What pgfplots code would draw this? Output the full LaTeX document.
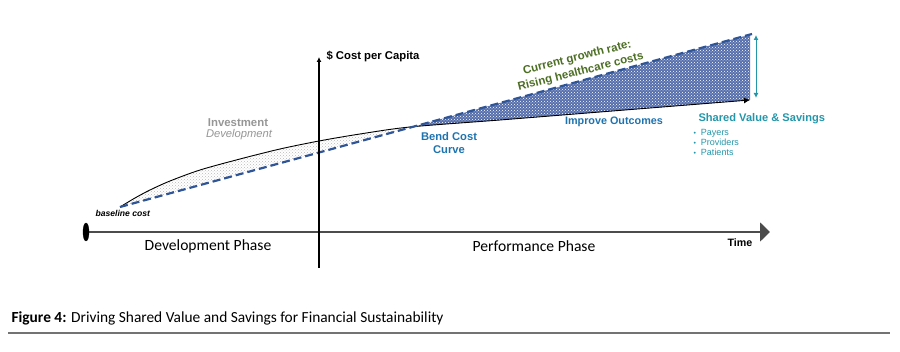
\documentclass[border=0pt]{standalone}
\usepackage{pgfplots}
\pgfplotsset{compat=1.18}
\usepgfplotslibrary{fillbetween}
\usetikzlibrary{patterns,arrows.meta}
\usepackage{fontspec}
\setmainfont{Liberation Sans}
\newfontfamily\calibri{Carlito}
\definecolor{dblue}{RGB}{47,85,151}
\definecolor{bfill}{RGB}{85,110,172}
\definecolor{txtblue}{RGB}{30,115,175}
\definecolor{tgreen}{RGB}{75,110,35}
\definecolor{teal2}{RGB}{35,150,170}
\definecolor{gtxt}{RGB}{150,150,150}
\newcommand{\fs}[1]{\fontsize{#1}{#1}\selectfont}
\begin{document}
\begin{tikzpicture}
\begin{axis}[scale only axis, width=900pt, height=352pt,
  xmin=0, xmax=900, ymin=0, ymax=352, y dir=reverse,
  axis lines=none, clip=false]
\path (rel axis cs:0,0) rectangle (rel axis cs:1,1);
% curves
\addplot[draw=none, name path=S, smooth] coordinates {
 (120,207) (135,198) (150,190) (170,181) (200,170) (240,159) (280,149)
 (319,141) (360,134) (410,127) (500,120) (600,112) (700,104) (750,100)};
\addplot[draw=none, name path=D] coordinates {(120,207) (752,34)};
\addplot[pattern=crosshatch dots, pattern color=gray!55, draw=none]
  fill between[of=S and D, soft clip={domain=120:410}];
\addplot[fill=bfill, draw=none]
  fill between[of=S and D, soft clip={domain=410:750}];
\addplot[pattern=crosshatch dots, pattern color=white, draw=none]
  fill between[of=S and D, soft clip={domain=410:750}];
\addplot[black, line width=0.9pt, smooth, -{Latex[length=6pt,width=6pt]}] coordinates {
 (120,207) (135,198) (150,190) (170,181) (200,170) (240,159) (280,149)
 (319,141) (360,134) (410,127) (500,120) (600,112) (700,104) (750,100)};
\addplot[dblue, line width=2.2pt, dash pattern=on 8pt off 4pt] coordinates {(120,207) (752,34)};
% teal double arrow
\addplot[teal2, line width=1pt, {Latex[length=5pt,width=5pt]}-{Latex[length=5pt,width=5pt]}] coordinates {(756,35) (756,98)};
% axes
\addplot[black!70, line width=1.8pt, -{Triangle[length=10pt,width=19pt]}] coordinates {(86,232) (770,232)};
\addplot[only marks, mark=*, mark size=9pt, mark options={xscale=0.33, black}] coordinates {(86,232)};
\addplot[black, line width=1.2pt, -{Latex[length=5pt,width=5pt]}] coordinates {(319,268) (319,57)};
% texts
\node[anchor=west, font=\fs{11.3}\bfseries] at (axis cs:323,56) {\$ Cost per Capita};
\node[font=\calibri\fs{15.6}] at (axis cs:208,246) {Development Phase};
\node[font=\calibri\fs{15.6}] at (axis cs:534,246) {Performance Phase};
\node[font=\fs{10.7}\bfseries] at (axis cs:740,243) {Time};
\node[anchor=west, font=\fs{8.6}\bfseries\itshape] at (axis cs:92,213) {baseline cost};
\node[text=gtxt, font=\fs{11.4}\bfseries] at (axis cs:238,123) {Investment};
\node[text=gtxt, font=\fs{11.2}\itshape] at (axis cs:239,135) {Development};
\node[text=txtblue, font=\fs{11.2}\bfseries, align=center] at (axis cs:449,143) {Bend Cost\\[2pt]Curve};
\node[text=txtblue, font=\fs{10.8}\bfseries] at (axis cs:614,122) {Improve Outcomes};
\node[text=tgreen, font=\fs{11.5}\bfseries, rotate=14, align=center, inner sep=1pt] at (axis cs:579,65) {Current growth rate:\\[3pt]Rising healthcare costs};
\node[anchor=west, text=teal2, font=\fs{11.1}\bfseries] at (axis cs:695,119) {Shared Value \& Savings};
\node[anchor=west, text=teal2, font=\fs{9}, align=left] at (axis cs:690,142)
  {\fs{7}\textbullet\hspace{5pt}\fs{9}Payers\\[1pt]\fs{7}\textbullet\hspace{5pt}\fs{9}Providers\\[1pt]\fs{7}\textbullet\hspace{5pt}\fs{9}Patients};
% caption
\node[anchor=base west, font=\calibri\fs{15.4}] at (axis cs:8,323) {\textbf{Figure 4:} Driving Shared Value and Savings for Financial Sustainability};
\addplot[black!55, line width=1.3pt] coordinates {(8,333) (890,333)};
\end{axis}
\end{tikzpicture}
\end{document}
